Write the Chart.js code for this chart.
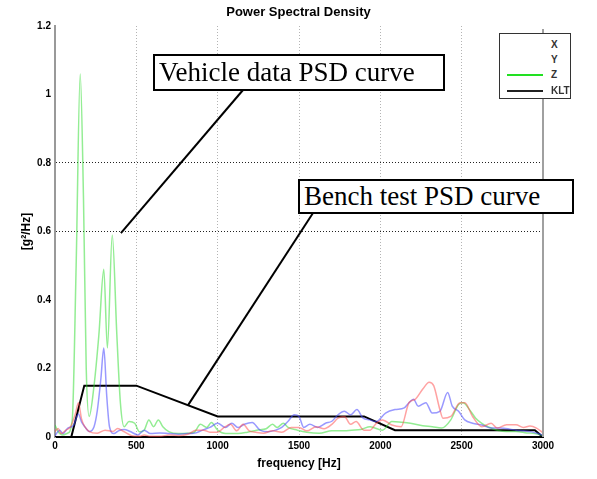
<!DOCTYPE html>
<html><head><meta charset="utf-8">
<script src="https://cdn.jsdelivr.net/npm/chart.js@4.4.0/dist/chart.umd.min.js"></script>
<style>
html,body{margin:0;padding:0;background:#fff;}
#wrap{position:relative;width:597px;height:479px;overflow:hidden;background:#fff;}
canvas{position:absolute;left:0;top:0;}
.t{position:absolute;font-family:"Liberation Sans",Arial,sans-serif;color:#000;}
#title{left:0;width:597px;top:4px;text-align:center;font-weight:bold;font-size:13px;line-height:16px;}
#legend{position:absolute;left:499px;top:33px;width:72px;height:66px;border:1px solid #333;background:#fff;box-sizing:border-box;}
.lrow{position:absolute;left:0;width:70px;height:14px;}
.lline{position:absolute;left:7px;width:36px;top:6px;height:2px;background:transparent;}
.ltxt{position:absolute;left:51px;top:0;font-family:"Liberation Sans",Arial,sans-serif;font-weight:bold;font-size:10px;line-height:14px;color:#333;}
.box{position:absolute;background:#fff;border:2px solid #000;font-family:"Liberation Serif","Times New Roman",serif;font-size:27px;padding-left:4px;box-sizing:border-box;white-space:nowrap;}
</style></head>
<body>
<div id="wrap">
<canvas id="c" width="597" height="479"></canvas>
<div id="title" class="t">Power Spectral Density</div>
<div id="legend"></div>
<div id="box1" class="box" style="left:153px;top:54px;width:292px;height:37px;line-height:33px;">Vehicle data PSD curve</div>
<div id="box2" class="box" style="left:298px;top:179px;width:276px;height:35px;line-height:31px;">Bench test PSD curve</div>
</div>
<script>
// ---------- data ----------
const SERIES_NAMES = ['X', 'Y', 'Z', 'KLT'];
const X_TICKS = [0, 500, 1000, 1500, 2000, 2500, 3000];
const Y_TICKS = [0, 0.2, 0.4, 0.6, 0.8, 1, 1.2];
const X_TITLE = 'frequency [Hz]';
const Y_TITLE = '[g\u00B2/Hz]';

const X_FREQ = [0,19,38,67,96,125,144,163,183,211,260,308,356,385,423,471,519,548,587,644,702,760,817,867,914,952,1000,1040,1079,1117,1156,1194,1233,1281,1337,1394,1452,1500,1548,1606,1654,1702,1740,1779,1817,1851,1899,1937,1975,2013,2071,2128,2176,2214,2261,2300,2328,2366,2385,2433,2490,2519,2567,2624,2681,2719,2776,2834,2880,2920,2960,3000];
const X_PSD  = [0.016,0.025,0.01,0.02,0.03,0.067,0.1,0.053,0.03,0.016,0.011,0.02,0.016,0.025,0.016,0.004,0.002,0.006,0.002,0.002,0.006,0.004,0.008,0.02,0.02,0.014,0.014,0.028,0.037,0.018,0.037,0.018,0.014,0.011,0.018,0.014,0.028,0.028,0.018,0.03,0.024,0.037,0.055,0.06,0.037,0.045,0.02,0.02,0.04,0.05,0.035,0.03,0.1,0.11,0.14,0.16,0.15,0.08,0.055,0.06,0.1,0.1,0.06,0.03,0.04,0.026,0.036,0.036,0.028,0.032,0.026,0.012];

const Y_FREQ = [0,29,48,77,115,144,163,183,211,240,260,282,300,318,335,362,390,425,462,510,548,587,644,702,760,817,867,906,952,1000,1048,1087,1125,1164,1212,1260,1308,1356,1394,1433,1471,1500,1529,1567,1615,1663,1702,1740,1779,1817,1856,1894,1933,1975,2032,2090,2147,2176,2204,2233,2280,2319,2366,2414,2442,2481,2519,2567,2624,2681,2738,2796,2834,2880,2930,2970,3000];
const Y_PSD  = [0.004,0.02,0.01,0.025,0.035,0.067,0.044,0.03,0.016,0.03,0.077,0.17,0.26,0.12,0.03,0.01,0.018,0.022,0.016,0.006,0.02,0.01,0.012,0.01,0.008,0.01,0.012,0.02,0.028,0.04,0.028,0.04,0.028,0.037,0.042,0.02,0.015,0.02,0.028,0.046,0.065,0.06,0.028,0.037,0.028,0.04,0.046,0.065,0.075,0.065,0.08,0.055,0.05,0.045,0.07,0.08,0.085,0.1,0.11,0.09,0.1,0.07,0.075,0.13,0.09,0.075,0.05,0.04,0.035,0.026,0.026,0.023,0.02,0.018,0.015,0.01,0.005];

const Z_FREQ = [0,19,48,77,106,130,155,175,192,210,240,270,300,322,352,380,402,425,455,490,520,548,577,606,635,663,702,760,817,856,894,933,961,1000,1048,1125,1183,1240,1298,1337,1365,1404,1433,1490,1548,1625,1702,1779,1823,1880,1937,2013,2071,2128,2185,2261,2319,2376,2433,2481,2509,2548,2586,2624,2662,2719,2776,2834,2900,2950,3000];
const Z_PSD  = [0.035,0.016,0.006,0.011,0.05,0.5,1.06,0.7,0.2,0.06,0.15,0.3,0.49,0.26,0.59,0.3,0.1,0.03,0.045,0.04,0.015,0.02,0.05,0.03,0.05,0.03,0.015,0.01,0.011,0.014,0.037,0.028,0.042,0.02,0.01,0.01,0.014,0.02,0.024,0.037,0.028,0.04,0.028,0.02,0.014,0.011,0.018,0.018,0.02,0.022,0.03,0.02,0.045,0.043,0.04,0.033,0.03,0.026,0.05,0.095,0.1,0.08,0.055,0.04,0.03,0.02,0.016,0.016,0.012,0.01,0.004];

const KLT_FREQ = [0,100,180,500,1000,1900,2090,2950,3000];
const KLT_PSD  = [0,0,0.15,0.15,0.06,0.06,0.02,0.02,0];

// leader-line tips (data coordinates) for the two callout boxes
const CALLOUT_TIPS = [[405, 0.595], [818, 0.093]];

// ---------- styling ----------
const COLORS = ['rgba(255,70,70,0.5)', 'rgba(70,70,255,0.55)', 'rgba(40,220,40,0.5)', '#000'];
const LEGEND_COLORS = ['transparent', 'transparent', '#22e022', '#222'];
const WIDTHS = [1.5, 1.5, 1.5, 2];

const pts = (f, v) => f.map((x, i) => ({x: x, y: v[i]}));
const SER = [[X_FREQ, X_PSD], [Y_FREQ, Y_PSD], [Z_FREQ, Z_PSD], [KLT_FREQ, KLT_PSD]];

// legend (html)
const leg = document.getElementById('legend');
const rowTops = [4, 19, 34, 50];
SERIES_NAMES.forEach((n, i) => {
  const r = document.createElement('div');
  r.className = 'lrow'; r.style.top = rowTops[i] + 'px';
  const l = document.createElement('div'); l.className = 'lline'; l.style.background = LEGEND_COLORS[i];
  const t = document.createElement('div'); t.className = 'ltxt'; t.textContent = n;
  r.appendChild(l); r.appendChild(t); leg.appendChild(r);
});

const BOX_ANCHORS = [[243, 90], [313, 213]];

const overlay = {
  id: 'overlay',
  afterDraw(chart) {
    const {ctx, chartArea: a, scales: {x, y}} = chart;
    ctx.save();
    ctx.strokeStyle = '#a0a0a0'; ctx.lineWidth = 2;
    ctx.beginPath(); ctx.moveTo(a.right, a.top + 3); ctx.lineTo(a.right, a.bottom); ctx.stroke();
    ctx.strokeStyle = '#000'; ctx.lineWidth = 2;
    CALLOUT_TIPS.forEach((tp, i) => {
      ctx.beginPath();
      ctx.moveTo(BOX_ANCHORS[i][0], BOX_ANCHORS[i][1]);
      ctx.lineTo(x.getPixelForValue(tp[0]), y.getPixelForValue(tp[1]));
      ctx.stroke();
    });
    ctx.restore();
  }
};

Chart.defaults.font.family = '"Liberation Sans", Arial, sans-serif';
Chart.defaults.color = '#000';

new Chart(document.getElementById('c'), {
  type: 'line',
  data: {
    datasets: SERIES_NAMES.map((n, i) => ({
      label: n,
      data: pts(SER[i][0], SER[i][1]),
      borderColor: COLORS[i],
      borderWidth: WIDTHS[i],
      pointRadius: 0,
      fill: false,
      cubicInterpolationMode: i < 3 ? 'monotone' : 'default',
      tension: 0
    }))
  },
  options: {
    responsive: false,
    animation: false,
    events: [],
    layout: {padding: {top: 26, right: 54, left: 0, bottom: 0}},
    plugins: {legend: {display: false}, title: {display: false}, tooltip: {enabled: false}},
    scales: {
      x: {
        type: 'linear', min: 0, max: 3000,
        afterBuildTicks: s => { s.ticks = X_TICKS.map(v => ({value: v})); },
        afterFit: s => { s.height = 42; },
        ticks: {font: {size: 10, weight: 'bold'}, padding: 3, maxRotation: 0, autoSkip: false, callback: v => String(v)},
        grid: {drawTicks: false, lineWidth: 1,
               color: c => (c.tick && c.tick.value > 0 && c.tick.value < 3000) ? '#b4b4b4' : 'rgba(0,0,0,0)'},
        border: {display: true, color: '#000', width: 2, dash: [1, 2]},
        title: {display: true, text: X_TITLE, font: {size: 12, weight: 'bold'}, padding: {top: 0, bottom: 8}}
      },
      y: {
        min: 0, max: 1.2,
        afterBuildTicks: s => { s.ticks = Y_TICKS.map(v => ({value: v})); },
        afterFit: s => { s.width = 55; },
        ticks: {font: {size: 10, weight: 'bold'}, padding: 4, callback: v => String(Number(v.toFixed(1)))},
        grid: {drawTicks: false, lineWidth: 1,
               color: c => (c.tick && (Math.abs(c.tick.value - 0.6) < 1e-6 || Math.abs(c.tick.value - 0.8) < 1e-6)) ? '#222' : 'rgba(0,0,0,0)'},
        border: {display: true, color: '#999', width: 2, dash: [1, 2]},
        title: {display: true, text: Y_TITLE, font: {size: 12, weight: 'bold'}, padding: {top: 19, bottom: 0}}
      }
    }
  },
  plugins: [overlay]
});
</script>
</body></html>
